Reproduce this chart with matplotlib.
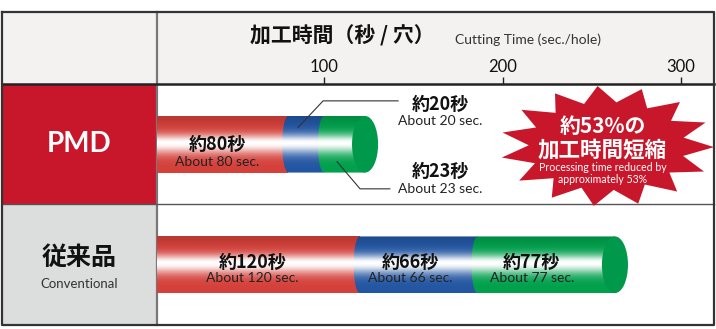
import numpy as np
import matplotlib
matplotlib.use('Agg')
import matplotlib.pyplot as plt
from matplotlib.patches import Rectangle, Ellipse, Polygon, PathPatch
from matplotlib.path import Path
from matplotlib.colors import to_rgb

# ---------------- data ----------------
products = ['PMD', '従来品']
product_sub = ['', 'Conventional']
pmd_times = [80, 20, 23]
conv_times = [120, 66, 77]
seg_colors = ['#d4403a', '#2356a2', '#00a04c']
cap_color = '#00984a'
x_ticks = [100, 200, 300]
x_tick_labels = ['100', '200', '300']
title_jp = '加工時間（秒 / 穴）'
title_en = 'Cutting Time (sec./hole)'
reduction_pct = 53

CJK = ['Noto Sans CJK JP', 'DejaVu Sans']
EN = ['Lato', 'DejaVu Sans']

W, H = 716, 329
fig = plt.figure(figsize=(W / 100, H / 100), dpi=100)

# ---------------- table background (pixel coords) ----------------
bg = fig.add_axes([0, 0, 1, 1])
bg.set_xlim(0, W)
bg.set_ylim(H, 0)
bg.axis('off')

L, R, T, B = 2, 714, 12, 325
C, R1, R2 = 157, 84, 204
bg.add_patch(Rectangle((L, T), R - L, R1 - T, color='#f3f2f0', lw=0))
bg.add_patch(Rectangle((C, R1), R - C, B - R1, color='white', lw=0))
bg.add_patch(Rectangle((L, R1), C - L, R2 - R1, color='#c8162b', lw=0))
bg.add_patch(Rectangle((L, R2), C - L, B - R2, color='#dcdddd', lw=0))
bg.plot([C, C], [T, B], color='#777777', lw=1.6)
bg.plot([L, R], [R2, R2], color='#555555', lw=1.0)
bg.plot([L, R], [R1, R1], color='#222222', lw=1.8)
bg.plot([L, R, R, L, L], [T, T, B, B, T], color='#333333', lw=1.6)

bg.text(250, 36, title_jp, fontsize=15, fontweight='bold', family=CJK,
        ha='left', va='center', color='#111111')
bg.text(455, 40, title_en, fontsize=10, family=EN, ha='left', va='center',
        color='#333333')
bg.text((L + C) / 2, 144, products[0], fontsize=20, family=EN, fontweight='bold',
        color='white', ha='center', va='center')
bg.text((L + C) / 2, 258, products[1], fontsize=18, family=CJK, fontweight='bold',
        color='#111111', ha='center', va='center')
bg.text((L + C) / 2, 284, product_sub[1], fontsize=9.5, family=EN,
        color='#333333', ha='center', va='center')

# ---------------- plot axes ----------------
px0, px_per = 145.5, 1.785
ax = fig.add_axes([C / W, (H - B) / H, (R - C) / W, (B - R1) / H])
ax.patch.set_alpha(0)
for s in ax.spines.values():
    s.set_visible(False)
xlo, xhi = (C - px0) / px_per, (R - px0) / px_per
ax.set_xlim(xlo, xhi)
ax.set_ylim(1.5, -0.5)
ax.xaxis.tick_top()
ax.set_xticks(x_ticks)
ax.set_xticklabels(x_tick_labels, family=EN, fontsize=12, color='#111111')
ax.set_yticks([])
ax.tick_params(axis='x', direction='out', length=5, width=1, color='#222222', pad=1.5)

bar_h = 0.47
a_joint = 3.4
a_cap = 7.3


def gradient(base, n=240):
    t = np.linspace(0, 1, n)
    c = np.array(to_rgb(base))
    w = np.where(t < 0.47, np.exp(-((t - 0.47) / 0.15) ** 2),
                 np.exp(-((t - 0.47) / 0.19) ** 2))
    dark = 1 - 0.12 * np.exp(-(t / 0.15) ** 2)
    col = c[None, :] * dark[:, None]
    col = col * (1 - w[:, None]) + w[:, None] * 1.0
    return np.clip(col, 0, 1)[:, None, :]


def seg_path(x0, x1, yc, first):
    top, bot = yc - bar_h / 2, yc + bar_h / 2
    if first:
        verts = [(x0, top), (x0, bot)]
    else:
        th = np.linspace(np.pi / 2, 3 * np.pi / 2, 40)
        verts = list(zip(x0 + a_joint * np.cos(th), yc - (bar_h / 2) * np.sin(th)))
    verts += [(x1, bot), (x1, top), verts[0]]
    return Path(verts)


def draw_bar(times, yc):
    edges = np.concatenate([[0], np.cumsum(times)])
    for i, v in enumerate(times):
        x0, x1 = edges[i], edges[i + 1]
        p = seg_path(x0, x1, yc, i == 0)
        patch = PathPatch(p, transform=ax.transData, facecolor='none', edgecolor='none')
        ax.add_patch(patch)
        im = ax.imshow(gradient(seg_colors[i]), extent=(x0 - a_joint, x1, yc + bar_h / 2, yc - bar_h / 2),
                       origin='upper', aspect='auto', interpolation='bilinear', zorder=2 + i)
        im.set_clip_path(patch)
    ax.add_patch(Ellipse((edges[-1], yc), 2 * a_cap, bar_h, facecolor=cap_color,
                         edgecolor='none', zorder=6))
    return edges


# PMD bar
e = draw_bar(pmd_times, 0)
mid0 = (e[0] + e[1]) / 2
ax.text(mid0, 0.0, f'約{pmd_times[0]}秒', family=CJK, fontsize=13, fontweight='bold',
        ha='center', va='center', color='#111111', zorder=10)
ax.text(mid0, 0.145, f'About {pmd_times[0]} sec.', family=EN, fontsize=10,
        ha='center', va='center', color='#222222', zorder=10)

call_x = e[-1] + 42   # x of the callout captions

# callout for blue segment
m1 = (e[1] + e[2]) / 2
ax.plot([m1 - 4.5, m1 + 9.5, m1 + 51.5], [-0.14, -0.36, -0.36], color='#333333', lw=0.8, zorder=9)
ax.text(call_x, -0.33, f'約{pmd_times[1]}秒', family=CJK, fontsize=13, fontweight='bold',
        ha='center', va='center', color='#111111', zorder=10)
ax.text(call_x, -0.195, f'About {pmd_times[1]} sec.', family=EN, fontsize=10,
        ha='center', va='center', color='#222222', zorder=10)

# callout for green segment
m2 = (e[2] + e[3]) / 2
ax.plot([m2 - 4.2, m2 + 8.7, m2 + 25.4], [0.145, 0.37, 0.37], color='#333333', lw=0.8, zorder=9)
ax.text(call_x, 0.225, f'約{pmd_times[2]}秒', family=CJK, fontsize=13, fontweight='bold',
        ha='center', va='center', color='#111111', zorder=10)
ax.text(call_x, 0.375, f'About {pmd_times[2]} sec.', family=EN, fontsize=10,
        ha='center', va='center', color='#222222', zorder=10)

# Conventional bar
e = draw_bar(conv_times, 1)
for i, v in enumerate(conv_times):
    m = (e[i] + e[i + 1]) / 2
    if i > 0:
        m -= 4.5
    if i == len(conv_times) - 1:
        m -= a_cap / 2
    ax.text(m, 0.985, f'約{v}秒', family=CJK, fontsize=13, fontweight='bold',
            ha='center', va='center', color='#111111', zorder=10)
    ax.text(m, 1.11, f'About {v} sec.', family=EN, fontsize=10,
            ha='center', va='center', color='#222222', zorder=10)

# starburst
cx, cy = 258.5, 0.015
rx, ry = 60.0, 0.50
n_sp = 15
ang = np.deg2rad(95) + np.arange(2 * n_sp) * np.pi / n_sp
rr = np.where(np.arange(2 * n_sp) % 2 == 0, 1.0, 0.73)
star = np.column_stack([cx + rx * rr * np.cos(ang), cy - ry * rr * np.sin(ang)])
ax.add_patch(Polygon(star, closed=True, facecolor='#c8162b', edgecolor='none', zorder=7,
                     clip_on=False))
ax.text(cx - 2.5, cy - 0.165, f'約{reduction_pct}%の', family=CJK, fontsize=15, fontweight='bold',
        color='white', ha='center', va='center', zorder=11)
ax.text(cx - 2.5, cy + 0.035, '加工時間短縮', family=CJK, fontsize=15.5, fontweight='bold',
        color='white', ha='center', va='center', zorder=11)
ax.text(cx - 2.5, cy + 0.175, 'Processing time reduced by', family=EN, fontsize=7.6,
        color='white', ha='center', va='center', zorder=11)
ax.text(cx - 2.5, cy + 0.275, f'approximately {reduction_pct}%', family=EN, fontsize=7.6,
        color='white', ha='center', va='center', zorder=11)

fig.savefig('out.png', dpi=100)
